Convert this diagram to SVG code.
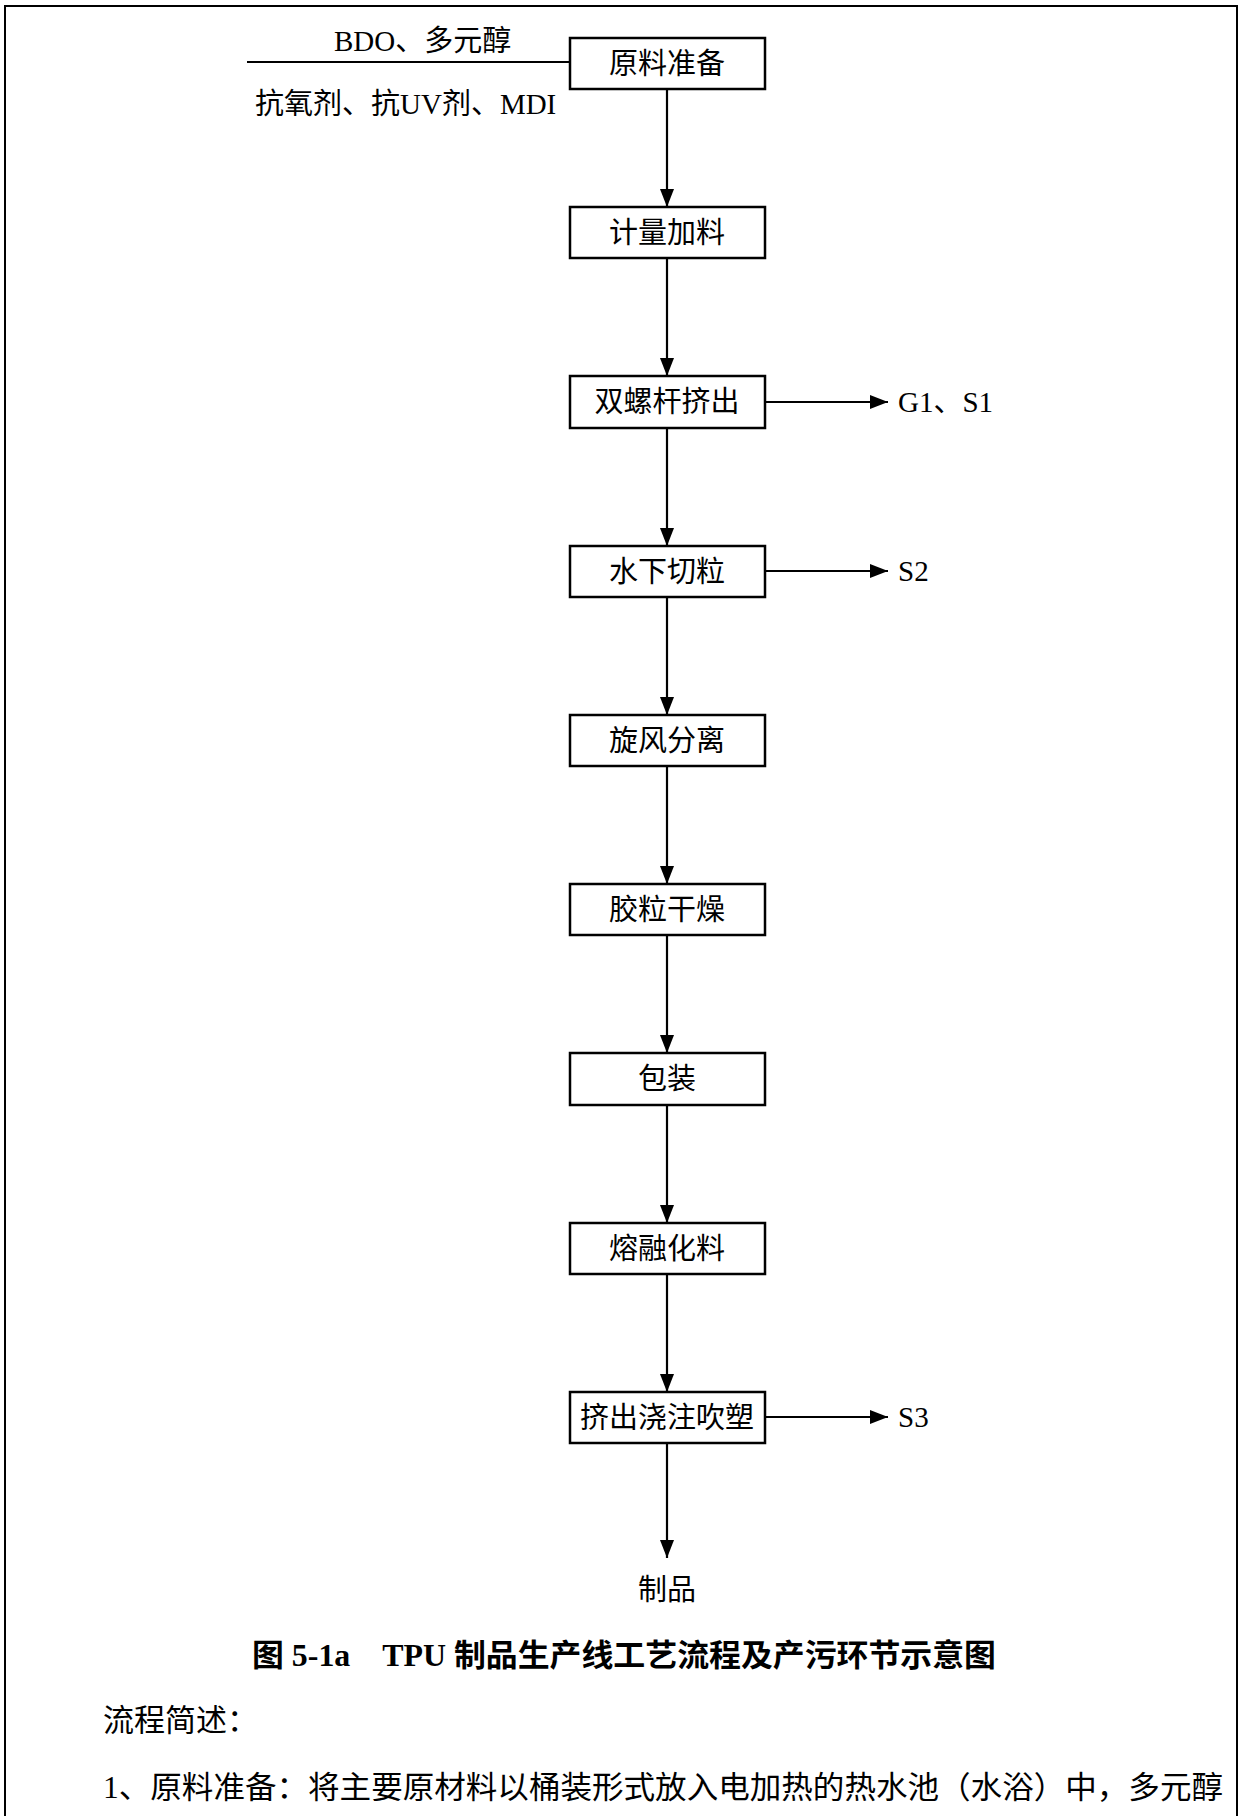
<svg xmlns="http://www.w3.org/2000/svg" width="1241" height="1816" viewBox="0 0 1241 1816">
<style>
text{font-family:"Liberation Serif","Noto Sans CJK SC",serif;fill:#000}
.box{fill:#fff;stroke:#000;stroke-width:2.5}
.lbl{font-size:29px;text-anchor:middle}
.side{font-size:29px}
.ln{stroke:#000;stroke-width:2.2;fill:none}
.cap{font-size:31px;font-weight:bold}
.body{font-size:31px}
</style>
<defs>
<marker id="ah" markerUnits="userSpaceOnUse" markerWidth="18" markerHeight="14" refX="18" refY="7" orient="auto">
<path d="M0,0 L18,7 L0,14 z" fill="#000"/>
</marker>
</defs>
<rect width="1241" height="1816" fill="#fff"/>
<path d="M5,1816 V6 H1237 V1816" fill="none" stroke="#000" stroke-width="2"/>

<g id="connectors">
<line class="ln" x1="247" y1="62" x2="570" y2="62"/>
<line class="ln" x1="667" y1="89" x2="667" y2="207" marker-end="url(#ah)"/>
<line class="ln" x1="667" y1="258" x2="667" y2="376" marker-end="url(#ah)"/>
<line class="ln" x1="667" y1="428" x2="667" y2="546" marker-end="url(#ah)"/>
<line class="ln" x1="667" y1="597" x2="667" y2="715" marker-end="url(#ah)"/>
<line class="ln" x1="667" y1="766" x2="667" y2="884" marker-end="url(#ah)"/>
<line class="ln" x1="667" y1="935" x2="667" y2="1053" marker-end="url(#ah)"/>
<line class="ln" x1="667" y1="1105" x2="667" y2="1223" marker-end="url(#ah)"/>
<line class="ln" x1="667" y1="1274" x2="667" y2="1392" marker-end="url(#ah)"/>
<line class="ln" x1="667" y1="1443" x2="667" y2="1558" marker-end="url(#ah)"/>
<line class="ln" x1="766" y1="402" x2="888" y2="402" marker-end="url(#ah)"/>
<line class="ln" x1="766" y1="571" x2="888" y2="571" marker-end="url(#ah)"/>
<line class="ln" x1="766" y1="1417" x2="888" y2="1417" marker-end="url(#ah)"/>
</g>

<g id="inputs">
<text class="side" x="334" y="51">BDO、多元醇</text>
<text class="side" x="255" y="114">抗氧剂、抗UV剂、MDI</text>
</g>

<g id="n1"><rect class="box" x="570" y="38" width="195" height="51"/><text class="lbl" x="667" y="74">原料准备</text></g>
<g id="n2"><rect class="box" x="570" y="207" width="195" height="51"/><text class="lbl" x="667" y="243">计量加料</text></g>
<g id="n3"><rect class="box" x="570" y="376" width="195" height="52"/><text class="lbl" x="667" y="412">双螺杆挤出</text></g>
<g id="n4"><rect class="box" x="570" y="546" width="195" height="51"/><text class="lbl" x="667" y="582">水下切粒</text></g>
<g id="n5"><rect class="box" x="570" y="715" width="195" height="51"/><text class="lbl" x="667" y="751">旋风分离</text></g>
<g id="n6"><rect class="box" x="570" y="884" width="195" height="51"/><text class="lbl" x="667" y="920">胶粒干燥</text></g>
<g id="n7"><rect class="box" x="570" y="1053" width="195" height="52"/><text class="lbl" x="667" y="1089">包装</text></g>
<g id="n8"><rect class="box" x="570" y="1223" width="195" height="51"/><text class="lbl" x="667" y="1259">熔融化料</text></g>
<g id="n9"><rect class="box" x="570" y="1392" width="195" height="51"/><text class="lbl" x="667" y="1428">挤出浇注吹塑</text></g>

<g id="outputs">
<text class="side" x="898" y="412">G1、S1</text>
<text class="side" x="898" y="581">S2</text>
<text class="side" x="898" y="1427">S3</text>
<text class="lbl" x="667" y="1600">制品</text>
</g>

<g id="caption">
<text class="cap" x="252" y="1666" textLength="744" lengthAdjust="spacingAndGlyphs">图 5-1a　TPU 制品生产线工艺流程及产污环节示意图</text>
<text class="body" x="103" y="1731">流程简述：</text>
<text class="body" x="103" y="1798" textLength="1120" lengthAdjust="spacingAndGlyphs">1、原料准备：将主要原材料以桶装形式放入电加热的热水池（水浴）中，多元醇</text>
</g>
</svg>
